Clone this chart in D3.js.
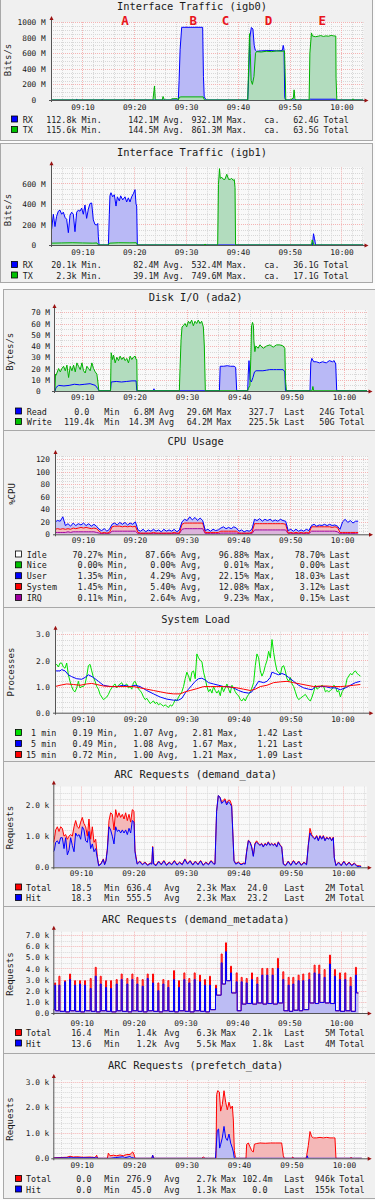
<!DOCTYPE html>
<html>
<head>
<meta charset="utf-8">
<script src="https://cdn.jsdelivr.net/npm/d3@7"></script>
<style>
  html, body { margin: 0; padding: 0; background: #fbfbfb; }
  svg { display: block; }
  text { font-family: "DejaVu Sans Mono", monospace; white-space: pre; fill: #1a1a1a; }
</style>
</head>
<body>
<svg id="chart" width="375" height="1200"></svg>
<script>
// ---------- shared time axis (minutes after 09:00) ----------
const timeTicks = [10, 20, 30, 40, 50, 60];
const timeLabels = ["09:10", "09:20", "09:30", "09:40", "09:50", "10:00"];

// ---------- Interface Traffic (igb0), values in M bits/s, [minute, value] ----------
const igb0Rx = [[3.92,0.3],[8.7,0.3],[8.9,8],[9.1,0.3],[13.6,0.3],[13.8,6],[14,0.3],[19,0.3],[19.2,5],[19.4,0.3],
  [28.5,0.5],[28.65,250],[28.85,650],[29.15,932],[33.2,932],[33.35,300],[33.5,40],[33.9,0.5],
  [41.9,0.5],[42.1,350],[42.3,800],[42.6,930],[42.9,910],[43.15,700],[43.35,640],[43.6,625],[44.5,630],[46,635],
  [47.5,630],[48.6,635],[48.75,700],[48.9,650],[49.05,30],[49.2,0.5],[53.8,0.5],[53.95,10],[58.9,10],[59,0.5],[64.2,0.5]];
const igb0Tx = [[3.92,0.3],[23.6,0.3],[23.8,120],[23.9,180],[24.05,20],[24.2,0.3],[25.4,0.3],[25.55,45],[25.75,10],[25.9,0.3],
  [27,0.3],[27.2,15],[28.3,18],[28.5,0.5],[28.7,35],[29,40],[33.3,40],[33.5,5],[33.7,0.3],
  [41.9,0.3],[42.1,500],[42.25,850],[42.4,600],[42.55,250],[42.8,200],[43.1,300],[43.4,600],[43.6,620],[44.5,615],
  [45.5,625],[46.5,620],[47.5,630],[48.5,625],[49,630],[49.1,400],[49.25,0.3],[50.3,0.3],[50.45,20],[50.7,20],[50.85,130],
  [51,20],[51.2,0.3],[53.75,0.3],[53.9,600],[54.2,860],[54.4,820],[55,812],[55.5,818],[56,826],[56.5,815],[57,822],[57.5,818],
  [58,828],[58.5,822],[58.9,820],[58.95,280],[59.1,0.3],[62.1,0.3],[62.25,15],[62.45,0.3],[64.2,0.3]];

// ---------- Interface Traffic (igb1) ----------
const igb1Rx = [[3.92,150],[4.05,160],[4.37,300],[4.69,180],[5,280],[5.34,330],[5.66,340],[5.98,300],[6.3,320],[6.62,270],
  [6.94,250],[7.27,120],[7.59,290],[7.91,320],[8.23,300],[8.55,130],[8.88,320],[9.2,340],[9.52,330],[9.84,360],[10.16,300],
  [10.48,390],[10.8,260],[11.13,350],[11.45,405],[11.77,410],[12.09,245],[12.41,200],[12.74,195],[12.95,210],[13.06,80],
  [13.2,0.5],[15,0.5],[15.18,300],[15.3,480],[15.5,510],[15.83,470],[16.15,490],[16.47,380],[16.73,470],[17.11,430],
  [17.37,480],[17.76,440],[18.21,470],[18.53,420],[18.85,460],[19.17,420],[19.49,470],[19.82,500],[20.14,540],[20.33,400],
  [20.46,380],[20.59,0.5],[54.4,0.5],[54.6,110],[54.8,60],[55,0.5],[64.2,0.5]];
const igb1Tx = [[3.92,15],[4,18],[6,20],[8,22],[10,20],[12,18],[12.8,20],[13,3],[13.2,0.5],[15,0.5],[15.2,18],[17,22],[19,21],
  [20.4,22],[20.6,0.5],[33.5,0.5],[33.65,10],[33.85,0.5],[36.1,0.5],[36.25,590],[36.45,745],[36.6,650],[36.9,660],[37.2,640],
  [37.5,640],[37.85,690],[38.2,640],[38.5,640],[38.8,650],[39.1,630],[39.3,640],[39.45,560],[39.55,0.5],[54.2,0.5],
  [54.35,50],[54.5,30],[54.65,0.5],[64.2,0.5]];

// ---------- Disk I/O (ada2), M bytes/s ----------
const diskRead = [[4.66,0.2],[4.85,0.2],[4.98,3],[5.49,5],[6.5,4.5],[7.5,5],[8.5,6],[9.5,5.5],[10.5,6],[11.5,6.5],[12.5,5],
  [12.99,2],[13.18,0.2],[15.4,0.2],[15.53,8],[16.5,8.5],[17.5,8],[18.5,8.5],[19.5,9],[20.29,9],[20.42,0.2],[23.55,0.2],
  [23.7,2],[23.85,0.2],[36.2,0.2],[36.35,22],[37,22],[37.7,22.5],[38.3,22],[39,22],[39.3,21],[39.5,0.2],[41.6,0.2],
  [41.7,15],[41.85,27],[42.05,10],[42.3,8],[42.6,12],[42.9,17],[43.2,18],[44.5,18],[45.2,18.5],[45.8,19],[46.5,19],
  [47.1,19],[48.37,19],[48.69,17],[48.82,0.2],[53.5,0.2],[53.65,25],[53.85,29],[54.2,26],[54.7,26],[55.3,25],[55.9,26],
  [56.6,25],[57.2,27],[57.8,26],[58.1,27],[58.41,24],[58.6,0.2],[61,0.2],[61.1,0.5],[61.2,0.2],[64.4,0.2]];
const diskWrite = [[4.66,0.2],[4.8,0.2],[4.9,15],[5,14],[5.49,20],[5.81,17],[6.12,20],[6.44,22],[6.76,18],[7.08,23],[7.4,12],
  [7.71,22],[8.03,18],[8.35,23],[8.67,17],[8.98,25],[9.3,22],[9.62,19],[9.94,25],[10.25,18],[10.57,16],[10.89,22],[11.21,20],
  [11.52,18],[11.84,25],[12.16,20],[12.48,17],[12.8,15],[12.99,8],[13.18,0.2],[15.4,0.2],[15.53,34],[15.78,28],[15.97,32],
  [16.29,25],[16.61,30],[16.93,27],[17.24,31],[17.56,28],[17.88,30],[18.2,27],[18.51,29],[18.83,25],[19.15,31],[19.47,28],
  [19.78,30],[20.1,31],[20.29,28],[20.42,28],[20.5,0.2],[28.55,0.2],[28.68,20],[28.87,45],[29.06,57],[29.31,58],[29.63,60],
  [29.95,57],[30.27,62],[30.58,60],[30.9,63],[31.22,58],[31.54,62],[31.86,60],[32.17,63],[32.49,60],[32.81,62],[33.13,57],
  [33.32,40],[33.51,0.2],[41.6,0.2],[41.7,2],[42.02,5],[42.2,30],[42.34,58],[42.53,61],[42.7,58],[42.78,45],[42.97,35],
  [43.16,40],[43.61,38],[43.93,41],[44.56,38],[45.2,40],[45.84,41],[46.47,39],[47.1,41],[47.74,41],[48.37,40],[48.69,38],
  [48.82,10],[49,0.2],[53.9,0.2],[54.05,4],[54.2,0.2],[64.4,0.2]];

// ---------- CPU Usage, % sampled every 0.5 min from 09:04.6 ----------
const cpuStart = 4.6, cpuStep = 0.5;
const cpuUser = [12,13,13,19,6,8,5,8,5,7, 4,8,3,7,4,6,4,3,4,6, 3,5,4,5,2,6,4,6,3,5, 4,7,4,3,6,2,5,3,5,3,
  5,2,6,3,5,3,5,2,5,4, 6,4,10,5,9,4,8,4,3,5, 2,5,3,4,5,7,4,6,4,7, 5,3,5,2,4,3,5,7,5,8, 4,7,5,7,4,6,4,7,5,5,
  4,5,3,5,3,4,3,5,4,2, 4,1,3,2,4,2,4,3,3,2, 5,17,21,16,19,15,18,18];
const cpuSystem = [5,6,5,6,5,5,5,6,5,6, 7,6,7,6,5,6,6,3,1,2, 1,2,7,8,8,8,7,8,7,8, 7,8,2,1,1,1,1,1,2,1,
  1,1,1,1,1,1,2,1,1,8, 9,9,9,9,9,9,9,9,2,2, 2,2,2,2,3,3,3,3,3,3, 3,1,1,1,1,1,2,10,10,10, 10,10,10,10,10,10,10,10,10,9,
  1,2,1,2,1,2,1,2,1,7, 7,7,7,7,7,7,7,6,7,7, 2,2,2,2,2,2,2,2.5];
const cpuIrq = [3,3,3,3,3,4,3,4,4,4, 4,4,4,4,4,4,3,2,1,1, 1,1,5,5,5,5,5,5,5,5, 5,5,1,1,1,1,1,1,1,1,
  1,1,1,1,1,1,1,1,1,8, 9,9,9,9,9,9,9,9,1,1, 1,1,1,1,2,2,2,2,2,2, 2,1,1,1,1,1,1,7,7,7, 7,7,7,7,7,7,7,7,7,7,
  1,1,1,1,1,1,1,1,1,5, 5,5,5,5,5,5,5,5,5,4, 1,1,1,1,1,1,1,0.5];

// ---------- System Load ----------
const load1Start = 4.595, load1Step = 0.3218;
const load1 = [1.8,1.85,1.75,1.9,1.9,1.75,1.7,1.9,1.45,1.2,1.0,0.85,0.8,0.95,1.2,0.95,1.0,1.0,1.1,1.4,
  1.8,1.85,1.6,1.35,1.2,1.0,0.9,0.7,0.6,0.5,0.55,0.6,0.7,0.85,0.95,1.05,1.1,0.95,1.05,1.1,
  1.15,1.0,1.05,1.1,0.95,1.0,0.9,1.15,1.2,1.05,0.9,0.85,0.75,0.6,0.5,0.55,0.45,0.35,0.4,0.45,
  0.35,0.4,0.3,0.35,0.3,0.25,0.3,0.25,0.2,0.3,0.25,0.35,0.5,0.45,0.6,0.7,0.8,1.0,1.3,1.55,
  1.4,1.2,1.55,1.6,1.3,2.25,2.1,2.0,1.95,1.55,1.3,1.0,0.8,0.9,0.75,1.0,0.85,0.75,0.85,0.65,
  1.0,0.8,0.95,1.1,0.9,0.75,1.05,0.95,0.8,0.7,0.65,0.5,0.45,0.55,0.45,0.6,0.7,0.8,0.95,1.15,
  1.8,2.25,2.1,1.6,1.4,1.55,1.8,2.0,2.35,2.1,2.8,2.3,1.9,1.6,1.55,1.45,1.75,1.8,1.6,1.3,
  1.2,1.35,1.1,1.0,0.8,0.6,0.5,0.55,0.6,0.65,0.7,0.6,0.5,0.45,0.6,0.8,1.05,0.9,0.95,1.0,
  1.05,1.0,0.8,0.85,0.8,0.85,0.9,1.05,1.0,0.8,0.85,0.6,0.8,0.9,1.0,1.3,1.4,1.5,1.45,1.55,
  1.6,1.5,1.45,1.4];
const load5 = [[4.59,1.6],[5.56,1.6],[5.88,1.65],[6.53,1.6],[7.17,1.45],[7.81,1.38],[8.78,1.3],[9.74,1.28],[10.39,1.35],
  [11.03,1.45],[12,1.35],[12.96,1.2],[13.93,1.05],[15.21,1.0],[16.5,1.0],[17.79,1.05],[19.07,1.0],[20.04,1.05],[21,1.0],
  [22.29,0.85],[23.58,0.72],[24.86,0.6],[26.15,0.52],[27.44,0.48],[28.4,0.48],[29.05,0.55],[29.69,0.75],[30.33,0.9],
  [30.98,1.05],[31.62,1.2],[32.27,1.3],[32.91,1.32],[33.55,1.25],[34.2,1.15],[35.16,1.1],[36.13,1.05],[37.09,1.0],
  [38.06,1.0],[39.02,0.95],[39.99,0.85],[40.95,0.78],[41.92,0.75],[42.56,0.8],[43.2,1.0],[43.85,1.2],[44.81,1.15],
  [45.46,1.2],[46.1,1.35],[46.42,1.55],[47.07,1.5],[47.71,1.45],[48.35,1.5],[49,1.45],[49.64,1.35],[50.61,1.2],
  [51.57,1.05],[52.54,0.95],[53.5,0.9],[54.14,0.88],[54.79,1.0],[55.75,1.0],[56.72,1.0],[57.68,0.95],[58.65,0.95],
  [59.61,0.88],[60.58,0.95],[61.54,1.05],[62.51,1.15],[63.47,1.2]];
const load15 = [[4.59,1.0],[5.56,1.05],[6.85,1.1],[8.13,1.08],[9.42,1.05],[10.71,1.1],[11.67,1.12],[12.64,1.08],[13.93,1.02],
  [15.86,1.0],[17.79,1.0],[19.72,1.0],[21,0.95],[22.29,0.9],[23.58,0.85],[24.86,0.8],[26.15,0.75],[27.44,0.72],[28.73,0.72],
  [29.69,0.8],[30.66,0.85],[31.94,0.92],[33.23,1.0],[34.52,1.0],[35.8,1.0],[37.09,1.0],[38.38,0.98],[39.67,0.95],[40.95,0.9],
  [42.24,0.85],[43.2,0.9],[44.17,1.0],[45.46,1.05],[46.74,1.15],[48.03,1.18],[49.32,1.2],[50.61,1.15],[51.89,1.1],
  [53.18,1.05],[54.47,1.0],[55.75,1.02],[57.04,1.02],[58.33,1.0],[59.61,1.0],[60.9,1.02],[62.19,1.05],[63.47,1.08]];

// ---------- ARC Requests (demand_data), k requests ----------
const demandHit = [[4.75,0.5],[4.92,0.55],[5.17,0.8],[5.49,0.85],[5.81,0.75],[6.12,0.95],[6.44,0.95],[6.76,0.6],[7.08,0.95],
  [7.4,0.4],[7.71,0.55],[8.03,0.95],[8.35,0.7],[8.67,0.5],[8.98,1.1],[9.3,1.0],[9.62,1.05],[9.94,0.9],[10.25,1.3],[10.57,1.2],
  [10.89,0.85],[11.21,0.8],[11.52,1.15],[11.84,0.6],[12.16,0.75],[12.48,0.5],[12.8,0.6],[13.11,0.3],[13.37,0.05],[13.8,0.1],
  [14.26,0.25],[14.5,0.08],[14.76,0.2],[15.02,0.55],[15.34,1.3],[15.65,1.2],[15.97,1.0],[16.29,0.75],[16.61,1.3],[16.93,1.15],
  [17.24,1.2],[17.56,1.1],[17.88,1.2],[18.2,1.1],[18.51,1.2],[18.83,1.05],[19.15,1.25],[19.47,1.1],[19.78,1.5],[20.1,1.45],
  [20.29,0.5],[20.48,0.3],[20.7,0.1],[21.2,0.18],[21.7,0.08],[22.2,0.15],[22.7,0.06],[23.2,0.12],[23.5,0.1],[23.66,0.65],
  [23.85,0.1],[24.3,0.05],[24.8,0.18],[25.3,0.08],[25.8,0.2],[26.3,0.06],[26.8,0.15],[27.3,0.08],[27.8,0.2],[28.3,0.07],
  [28.8,0.15],[29.3,0.08],[29.8,0.25],[30.3,0.1],[30.8,0.2],[31.3,0.07],[31.8,0.18],[32.3,0.08],[32.8,0.2],[33.3,0.06],
  [33.8,0.15],[34.3,0.08],[34.8,0.2],[35.3,0.1],[35.54,0.1],[35.85,1.8],[36.17,2.3],[36.49,2.25],[36.8,2.05],[37.12,2.1],
  [37.45,2.15],[37.76,2.0],[38.08,2.1],[38.4,2.05],[38.72,1.95],[38.91,1.2],[39.17,0.2],[39.5,0.1],[40,0.15],[40.5,0.08],
  [41,0.12],[41.3,0.1],[41.58,0.5],[41.9,0.85],[42.22,0.8],[42.53,0.65],[42.85,0.35],[43.16,0.75],[43.48,0.8],[43.8,0.75],
  [44.11,0.7],[44.43,0.75],[44.75,0.65],[45.07,0.75],[45.39,0.7],[45.7,0.8],[46.02,0.7],[46.34,0.75],[46.66,0.7],[46.98,0.75],
  [47.3,0.65],[47.61,0.8],[47.93,0.7],[48.25,0.65],[48.57,0.1],[49,0.05],[49.5,0.18],[50,0.06],[50.5,0.2],[51,0.08],
  [51.5,0.18],[52,0.06],[52.5,0.15],[53,0.08],[53.33,0.7],[53.65,1.1],[53.97,1.0],[54.29,0.95],[54.6,0.9],[54.92,1.0],
  [55.24,0.85],[55.56,1.0],[55.88,0.9],[56.2,1.0],[56.51,0.85],[56.83,0.95],[57.15,0.9],[57.47,0.95],[57.78,0.85],[58.09,0.95],
  [58.28,0.3],[58.6,0.05],[59.1,0.15],[59.6,0.05],[60.1,0.18],[60.6,0.06],[61.1,0.15],[61.6,0.05],[62.1,0.12],[62.6,0.03],
  [63.1,0.03],[63.4,0.02]];
const demandTotal = [[4.75,0.8],[4.92,0.9],[5.17,1.2],[5.49,1.3],[5.81,1.15],[6.12,1.3],[6.44,1.25],[6.76,1.0],[7.08,1.05],
  [7.4,0.9],[7.71,1.0],[8.03,1.05],[8.35,1.0],[8.67,1.3],[8.98,1.5],[9.3,1.3],[9.62,1.25],[9.94,1.45],[10.25,1.6],[10.57,1.4],
  [10.89,1.3],[11.21,1.0],[11.52,1.55],[11.84,0.9],[12.16,1.3],[12.48,0.8],[12.8,0.9],[13.11,0.35],[13.37,0.06],[13.8,0.12],
  [14.26,0.27],[14.5,0.1],[14.76,0.22],[15.02,0.6],[15.34,1.5],[15.65,1.75],[15.97,1.7],[16.29,1.2],[16.61,1.85],[16.93,1.6],
  [17.24,1.75],[17.56,1.6],[17.88,1.7],[18.2,1.55],[18.51,1.75],[18.83,1.5],[19.15,1.7],[19.47,1.45],[19.78,1.85],[20.1,1.8],
  [20.29,0.55],[20.48,0.35],[20.7,0.12],[21.2,0.2],[21.7,0.1],[22.2,0.17],[22.7,0.08],[23.2,0.14],[23.5,0.12],[23.66,0.67],
  [23.85,0.12],[24.3,0.07],[24.8,0.2],[25.3,0.1],[25.8,0.22],[26.3,0.08],[26.8,0.17],[27.3,0.1],[27.8,0.22],[28.3,0.09],
  [28.8,0.17],[29.3,0.1],[29.8,0.27],[30.3,0.12],[30.8,0.22],[31.3,0.09],[31.8,0.2],[32.3,0.1],[32.8,0.22],[33.3,0.08],
  [33.8,0.17],[34.3,0.1],[34.8,0.22],[35.3,0.12],[35.54,0.12],[35.85,1.8],[36.17,2.3],[36.49,2.25],[36.8,2.1],[37.12,2.15],
  [37.45,2.2],[37.76,2.05],[38.08,2.15],[38.4,2.15],[38.72,2.0],[38.91,1.25],[39.17,0.22],[39.5,0.12],[40,0.17],[40.5,0.1],
  [41,0.14],[41.3,0.12],[41.58,0.52],[41.9,0.87],[42.22,0.82],[42.53,0.67],[42.85,0.37],[43.16,0.77],[43.48,0.85],[43.8,0.77],
  [44.11,0.72],[44.43,0.77],[44.75,0.67],[45.07,0.77],[45.39,0.72],[45.7,0.82],[46.02,0.72],[46.34,0.77],[46.66,0.72],
  [46.98,0.77],[47.3,0.67],[47.61,0.82],[47.93,0.72],[48.25,0.67],[48.57,0.12],[49,0.07],[49.5,0.2],[50,0.08],[50.5,0.22],
  [51,0.1],[51.5,0.2],[52,0.08],[52.5,0.17],[53,0.1],[53.33,0.72],[53.65,1.25],[53.97,1.05],[54.29,0.97],[54.6,0.92],
  [54.92,1.02],[55.24,0.87],[55.56,1.02],[55.88,0.92],[56.2,1.02],[56.51,0.87],[56.83,0.97],[57.15,0.92],[57.47,0.97],
  [57.78,0.87],[58.09,0.97],[58.28,0.32],[58.6,0.07],[59.1,0.17],[59.6,0.07],[60.1,0.2],[60.6,0.08],[61.1,0.17],[61.6,0.07],
  [62.1,0.14],[62.6,0.05],[63.1,0.05],[63.4,0.04]];

// ---------- ARC Requests (demand_metadata), k requests, one burst per minute ----------
const metaTimes = [4.87,5.70,6.79,7.75,8.72,9.68,10.64,11.73,12.70,13.66,14.69,15.65,16.74,17.70,18.79,19.76,20.72,21.75,
  22.71,23.74,24.76,25.73,26.69,27.78,28.74,29.77,30.73,31.76,32.79,33.75,34.71,35.87,36.96,37.79,38.76,39.85,40.81,41.78,
  42.80,43.83,44.79,45.75,46.78,47.80,48.83,49.86,50.76,51.78,52.68,53.84,54.86,55.76,56.79,57.82,58.78,59.74,60.77,61.80,62.82];
const metaTotalPeak = [2.7,3.3,2.9,3.5,2.9,2.9,2.9,3.1,4.1,3.3, 2.9,2.9,3.0,3.5,3.1,3.5,3.2,3.0,3.5,3.5,
  2.7,3.0,2.9,3.8,2.9,3.6,3.1,3.6,3.4,3.0, 3.3,2.5,5.3,6.3,4.2,3.6,3.2,3.1,3.6,3.2, 4.0,4.0,4.0,4.9,3.7,3.2,3.2,3.4,3.5,3.6,
  4.3,4.3,3.9,5.2,3.9,3.6,3.6,3.2,4.1];
const metaHitPeak = [2.5,2.5,2.8,3.0,2.5,2.6,2.5,2.2,3.3,2.6, 2.3,2.2,2.6,3.0,2.6,3.0,2.6,2.4,3.1,2.7,
  2.0,2.6,2.3,3.0,2.3,3.0,2.7,3.0,2.8,2.5, 2.5,2.2,4.5,5.5,3.6,2.8,2.8,2.7,3.0,2.6, 3.4,3.4,3.4,4.0,3.0,2.5,2.6,2.9,2.9,3.0,
  3.6,3.5,3.2,4.4,3.3,3.0,3.0,2.4,3.4];
const metaFloor = [0.2,0.15,0.1,0.2,0.15,0.1,0.2,0.15,0.1,0.2, 0.15,0.1,0.2,0.15,0.1,0.2,0.15,0.1,0.2,0.15,
  0.1,0.2,0.15,0.1,0.2,0.15,0.1,0.2,0.15,0.1, 0.3,1.6,2.6,2.9,1.8,0.2,0.8,0.85,0.8,0.9, 0.8,0.85,0.8,0.9,0.2,0.15,0.25,0.2,0.3,0.9,
  0.85,0.95,0.9,0.85,0.2,0.15,0.2,0.15,1.8];

// ---------- ARC Requests (prefetch_data), k requests ----------
const prefetchTotal = [[4.6,0.02],[7.14,0.04],[7.78,0.08],[8.41,0.05],[9.05,0.06],[10.32,0.04],[11.59,0.05],[12.54,0.03],
  [12.86,0.12],[13.05,0],[14.9,0],[15.08,0.2],[15.4,0.1],[16.04,0.12],[16.67,0.1],[17.31,0.13],[17.94,0.1],[18.58,0.15],
  [19.21,0.15],[19.72,0.25],[19.97,0.15],[20.17,0],[23.34,0],[23.53,0.12],[23.79,0],[32.87,0],[33.19,0.05],[33.51,0],
  [35.6,0],[35.73,2.5],[35.92,2.65],[36.24,2.6],[36.49,1.85],[36.8,2.1],[37.13,2.65],[37.45,2.2],[37.76,1.9],[38.08,2.2],
  [38.4,1.95],[38.72,2.05],[38.91,1.5],[39.1,0.3],[39.29,0.05],[39.55,0],[41.32,0],[41.45,0.55],[41.77,0.6],[42.08,0.45],
  [42.4,0.3],[42.72,0.25],[42.91,0.55],[43.35,0.58],[43.99,0.6],[45,0.59],[46,0.6],[47,0.6],[48.12,0.6],[48.44,0.1],
  [48.63,0],[50.03,0],[50.22,0.05],[50.47,0],[52.76,0],[52.88,0.1],[53.2,0.5],[53.52,1.05],[53.84,0.85],[54.16,0.8],
  [54.79,0.8],[55.43,0.82],[56.06,0.8],[56.7,0.82],[57.33,0.8],[57.97,0.8],[58.28,0.8],[58.47,0],[61.14,0],[61.33,0.03],
  [61.65,0],[63.4,0]];
const prefetchHit = [[4.6,0.01],[7.5,0.02],[7.78,0.05],[8.1,0.02],[12.7,0.02],[12.86,0.05],[13.05,0],[15.4,0],[16.5,0.03],
  [17.9,0.06],[18.2,0.02],[19.2,0.07],[19.5,0.03],[20.17,0],[23.4,0],[23.53,0.12],[23.7,0],[35.5,0],[35.6,0.3],[35.85,1.1],
  [36.1,1.15],[36.3,0.4],[36.5,0.55],[36.8,0.8],[37.13,1.25],[37.45,0.8],[37.76,0.7],[38.08,0.95],[38.4,0.6],[38.72,0.4],
  [38.91,0.25],[39.1,0],[52.9,0],[53,0.1],[53.15,0],[63.4,0]];

// ---------- legend texts ----------
const igb0Legend = [["RX","112.8k","Min.","142.1M","Avg.","932.1M","Max.","ca.","62.4G","Total"],
                    ["TX","115.6k","Min.","144.5M","Avg.","861.3M","Max.","ca.","63.5G","Total"]];
const igb1Legend = [["RX","20.1k","Min.","82.4M","Avg.","532.4M","Max.","ca.","36.1G","Total"],
                    ["TX","2.3k","Min.","39.1M","Avg.","749.6M","Max.","ca.","17.1G","Total"]];
const diskLegend = [["Read","0.0","Min","6.8M","Avg","29.6M","Max","327.7","Last","24G","Total"],
                    ["Write","119.4k","Min","14.3M","Avg","64.2M","Max","225.5k","Last","50G","Total"]];
const cpuLegend = [["Idle","70.27%","Min,","87.66%","Avg,","96.88%","Max,","78.70%","Last"],
                   ["Nice","0.00%","Min,","0.00%","Avg,","0.01%","Max,","0.00%","Last"],
                   ["User","1.35%","Min,","4.29%","Avg,","22.15%","Max,","18.03%","Last"],
                   ["System","1.45%","Min,","5.40%","Avg,","12.08%","Max,","3.12%","Last"],
                   ["IRQ","0.11%","Min,","2.64%","Avg,","9.23%","Max,","0.15%","Last"]];
const loadLegend = [[" 1 min","0.19","Min,","1.07","Avg,","2.81","Max,","1.42","Last"],
                    [" 5 min","0.49","Min,","1.08","Avg,","1.67","Max,","1.21","Last"],
                    ["15 min","0.72","Min,","1.00","Avg,","1.21","Max,","1.09","Last"]];
const demandLegend = [["Total","18.5","Min","636.4","Avg","2.3k","Max","24.0","Last","2M","Total"],
                      ["Hit","18.3","Min","555.5","Avg","2.3k","Max","23.2","Last","2M","Total"]];
const metaLegend = [["Total","16.4","Min","1.4k","Avg","6.3k","Max","2.1k","Last","5M","Total"],
                    ["Hit","13.6","Min","1.2k","Avg","5.5k","Max","1.8k","Last","4M","Total"]];
const prefetchLegend = [["Total","0.0","Min","276.9","Avg","2.7k","Max","102.4m","Last","946k","Total"],
                        ["Hit","0.0","Min","45.0","Avg","1.3k","Max","0.0","Last","155k","Total"]];

// ---------- y axis ticks ----------
const trafficTicks = [0, 200, 400, 600, 800, 1000];
const trafficTickLabels = ["0  ", "200 M", "400 M", "600 M", "800 M", "1000 M"];
const diskTicks = [0, 10, 20, 30, 40, 50, 60, 70];
const diskTickLabels = ["0  ", "10 M", "20 M", "30 M", "40 M", "50 M", "60 M", "70 M"];
const cpuTicks = [0, 20, 40, 60, 80, 100, 120];
const loadTicks = [0, 1, 2, 3];
const loadTickLabels = ["0.0", "1.0", "2.0", "3.0"];
const kTicks = [0, 1, 2, 3, 4, 5, 6, 7];
const kTickLabels = ["0.0", "1.0 k", "2.0 k", "3.0 k", "4.0 k", "5.0 k", "6.0 k", "7.0 k"];

// annotation letters above the igb0 graph, placed on its time axis
const markLetters = ["A", "B", "C", "D", "E"];
const markTimes = [18.2, 31.4, 37.6, 45.9, 56.3];

// ---------- colours ----------
const BLUE = "#0000ff", GREEN = "#00b000", RED = "#ff0000", PURPLE = "#a000a0";
const BLUE_FILL = "#b9b9f6", GREEN_FILL = "#b2dcbe";
const PINK = "#f4b8b8", LAVENDER = "#bcbcf4";

// legend column positions [x, anchor]
const trafficCols = [[22.7,"s"],[76.5,"e"],[81.5,"s"],[158.5,"e"],[163.5,"s"],[221.7,"e"],[226.7,"s"],[264.3,"s"],[318.5,"e"],[323.5,"s"]];
const diskCols = [[26.7,"s"],[94.3,"e"],[104.3,"s"],[154,"e"],[159,"s"],[212,"e"],[216.5,"s"],[279,"e"],[284.3,"s"],[334.5,"e"],[339.5,"s"]];
const cpuCols = [[26.7,"s"],[102.7,"e"],[107.7,"s"],[175.5,"e"],[181,"s"],[249,"e"],[254.5,"s"],[325,"e"],[329.5,"s"]];
const loadCols = [[26,"s"],[92.7,"e"],[97.7,"s"],[153.3,"e"],[158.3,"s"],[212.7,"e"],[217.7,"s"],[277.5,"e"],[282.5,"s"]];
const arcCols = [[26,"s"],[96.5,"e"],[104.3,"s"],[156.7,"e"],[164.3,"s"],[216.7,"e"],[221,"s"],[272.5,"e"],[284.3,"s"],[335,"e"],[339.3,"s"]];

const svg = d3.select("#chart");

// panel frames
svg.append("rect").attr("x", 0.5).attr("y", -0.5).attr("width", 372).attr("height", 141).attr("fill", "#f0f0f0").attr("stroke", "#a8a8a8");
svg.append("rect").attr("x", 0.5).attr("y", 143.5).attr("width", 372).attr("height", 139).attr("fill", "#f0f0f0").attr("stroke", "#a8a8a8");
svg.append("rect").attr("x", 3.5).attr("y", 289.5).attr("width", 381).attr("height", 909).attr("fill", "#f0f0f0").attr("stroke", "#a8a8a8");
[430.5, 607.5, 761.5, 906.5, 1053.5].forEach(yy => {
  svg.append("line").attr("x1", 3.5).attr("x2", 375).attr("y1", yy).attr("y2", yy).attr("stroke", "#a8a8a8");
});

// fills first, then the lines on top
function drawSeries(g, x, y, list) {
  list.forEach(s => {
    if (s.fill) g.append("path").datum(s.pts).attr("fill", s.fill)
      .attr("d", d3.area().x(d => x(d[0])).y0(y(0)).y1(d => y(d[1])));
  });
  list.forEach(s => {
    g.append("path").datum(s.pts).attr("fill", "none").attr("stroke", s.line).attr("stroke-width", 1)
      .attr("d", d3.line().x(d => x(d[0])).y(d => y(d[1])));
  });
}

// narrow bursts: straight up from the previous floor to the peak, then down to the next floor
function burstSeries(times, peaks, floors, start, end) {
  const pts = [start];
  times.forEach((t, i) => {
    const prev = i ? floors[i - 1] : start[1];
    pts.push([t - 0.1, prev], [t - 0.09, peaks[i]], [t + 0.1, peaks[i]], [t + 0.11, floors[i]]);
  });
  pts.push([end, floors[floors.length - 1]]);
  return pts;
}

const panels = [
  { title: "Interface Traffic (igb0)", titleX: 192, titleY: 9.5, yTitle: "Bits/s", yTitleX: 10.5, yTitleY: 60,
    x0: 51, x1: 363.5, t0: 3.92, t1: 64.25, yB: 100, yT: 22, yMax: 1000,
    yTicks: trafficTicks, yTickLabels: trafficTickLabels, yMinor: 50, yLabelEnd: 45.7, xLabelY: 110,
    legend: igb0Legend, cols: trafficCols, legendY: [122.5, 133], boxX: 11, colors: [BLUE, "#00c000"], pad: false,
    draw: (g, x, y) => drawSeries(g, x, y, [{ pts: igb0Rx, line: BLUE, fill: BLUE_FILL }, { pts: igb0Tx, line: GREEN, fill: GREEN_FILL }]) },
  { title: "Interface Traffic (igb1)", titleX: 192, titleY: 155.5, yTitle: "Bits/s", yTitleX: 10.5, yTitleY: 210,
    x0: 51, x1: 363.5, t0: 3.92, t1: 64.25, yB: 245, yT: 167.3, yMax: 758,
    yTicks: trafficTicks.slice(0, 4), yTickLabels: trafficTickLabels.slice(0, 4), yMinor: 50, yLabelEnd: 45.7, xLabelY: 254.8,
    legend: igb1Legend, cols: trafficCols, legendY: [268, 278.5], boxX: 11, colors: [BLUE, "#00c000"], pad: false,
    draw: (g, x, y) => drawSeries(g, x, y, [{ pts: igb1Rx, line: BLUE, fill: BLUE_FILL }, { pts: igb1Tx, line: GREEN, fill: GREEN_FILL }]) },
  { title: "Disk I/O (ada2)", titleX: 195.7, titleY: 300.5, yTitle: "Bytes/s", yTitleX: 12.5, yTitleY: 351.7,
    x0: 54, x1: 367.5, t0: 4.61, t1: 64.48, yB: 391, yT: 310, yMax: 72,
    yTicks: diskTicks, yTickLabels: diskTickLabels, yMinor: 5, yLabelEnd: 50, xLabelY: 400,
    legend: diskLegend, cols: diskCols, legendY: [414.5, 425], boxX: 15, colors: [BLUE, "#00c000"], pad: true,
    draw: (g, x, y) => drawSeries(g, x, y, [{ pts: diskRead, line: BLUE, fill: BLUE_FILL }, { pts: diskWrite, line: GREEN, fill: GREEN_FILL }]) },
  { title: "CPU Usage", titleX: 195.7, titleY: 444.5, yTitle: "%CPU", yTitleX: 15, yTitleY: 494,
    x0: 55, x1: 368, t0: 4.59, t1: 65.0, yB: 534.3, yT: 456, yMax: 125.3,
    yTicks: cpuTicks, yTickLabels: cpuTicks.map(String), yMinor: 5, yLabelEnd: 50, xLabelY: 542.8,
    legend: cpuLegend, cols: cpuCols, legendY: [557.5, 568.3, 579.2, 590, 600.9], boxX: 15,
    colors: ["#ffffff", "#00c000", BLUE, RED, PURPLE], pad: false,
    draw: (g, x, y) => {
      const rows = cpuUser.map((u, i) => ({ t: cpuStart + i * cpuStep, irq: cpuIrq[i], system: cpuSystem[i], user: u }));
      const layers = d3.stack().keys(["irq", "system", "user"])(rows);
      const fills = ["#dcb4dc", "#f4c0c0", "#c4c4f4"], lines = [PURPLE, RED, BLUE];
      layers.forEach((L, k) => {
        g.append("path").datum(L).attr("fill", fills[k])
          .attr("d", d3.area().x(d => x(d.data.t)).y0(d => y(d[0])).y1(d => y(d[1])));
      });
      layers.forEach((L, k) => {
        g.append("path").datum(L).attr("fill", "none").attr("stroke", lines[k]).attr("stroke-width", 1)
          .attr("d", d3.line().x(d => x(d.data.t)).y(d => y(d[1])));
      });
    } },
  { title: "System Load", titleX: 195.7, titleY: 622.7, yTitle: "Processes", yTitleX: 14, yTitleY: 672,
    x0: 55, x1: 368.3, t0: 4.59, t1: 65.0, yB: 712.7, yT: 631.7, yMax: 3.1,
    yTicks: loadTicks, yTickLabels: loadTickLabels, yMinor: 0.2, yLabelEnd: 50, xLabelY: 722,
    legend: loadLegend, cols: loadCols, legendY: [736, 747, 758], boxX: 15, colors: ["#00e000", BLUE, RED], pad: false,
    draw: (g, x, y) => drawSeries(g, x, y, [
      { pts: load1.map((v, i) => [load1Start + i * load1Step, v]), line: "#00e000" },
      { pts: load5, line: BLUE }, { pts: load15, line: RED }]) },
  { title: "ARC Requests (demand_data)", titleX: 195.7, titleY: 777.5, yTitle: "Requests", yTitleX: 12.5, yTitleY: 827.5,
    x0: 53.3, x1: 366.7, t0: 4.72, t1: 64.46, yB: 867.3, yT: 786.6, yMax: 2.59,
    yTicks: kTicks.slice(0, 3), yTickLabels: kTickLabels.slice(0, 3), yMinor: 0.2, yLabelEnd: 49.3, xLabelY: 876,
    legend: demandLegend, cols: arcCols, legendY: [890.5, 901], boxX: 15, colors: [RED, BLUE], pad: true,
    draw: (g, x, y) => drawSeries(g, x, y, [{ pts: demandTotal, line: RED, fill: PINK }, { pts: demandHit, line: BLUE, fill: LAVENDER }]) },
  { title: "ARC Requests (demand_metadata)", titleX: 195.7, titleY: 923, yTitle: "Requests", yTitleX: 12.5, yTitleY: 974,
    x0: 53.3, x1: 366.7, t0: 4.53, t1: 64.9, yB: 1013, yT: 931.7, yMax: 7.3,
    yTicks: kTicks, yTickLabels: kTickLabels, yMinor: 0.5, yLabelEnd: 49.3, xLabelY: 1026,
    legend: metaLegend, cols: arcCols, legendY: [1036, 1046.5], boxX: 15, colors: [RED, BLUE], pad: true,
    draw: (g, x, y) => drawSeries(g, x, y, [
      { pts: burstSeries(metaTimes, metaTotalPeak, metaFloor, [4.55, 0.3], 63.3), line: RED, fill: PINK },
      { pts: burstSeries(metaTimes, metaHitPeak, metaFloor, [4.55, 0.3], 63.3), line: BLUE, fill: LAVENDER }]) },
  { title: "ARC Requests (prefetch_data)", titleX: 195.7, titleY: 1068.5, yTitle: "Requests", yTitleX: 12.5, yTitleY: 1119,
    x0: 53.3, x1: 366.7, t0: 4.59, t1: 64.33, yB: 1158.3, yT: 1080, yMax: 3.07,
    yTicks: kTicks.slice(0, 4), yTickLabels: kTickLabels.slice(0, 4), yMinor: 0.2, yLabelEnd: 49.3, xLabelY: 1167.8,
    legend: prefetchLegend, cols: arcCols, legendY: [1182, 1192.5], boxX: 15, colors: [RED, BLUE], pad: true,
    draw: (g, x, y) => drawSeries(g, x, y, [{ pts: prefetchTotal, line: RED, fill: PINK }, { pts: prefetchHit, line: BLUE, fill: LAVENDER }]) }
];

panels.forEach((p, idx) => {
  const x = d3.scaleLinear().domain([p.t0, p.t1]).range([p.x0, p.x1]);
  const y = d3.scaleLinear().domain([0, p.yMax]).range([p.yB, p.yT]);
  const g = svg.append("g");

  // plot background
  g.append("rect").attr("x", p.x0).attr("y", p.yT).attr("width", p.x1 - p.x0).attr("height", p.yB - p.yT).attr("fill", "#f9f9f9");

  // minor grid (every 2 min, every yMinor)
  const vMinor = d3.range(Math.ceil(p.t0 / 2) * 2, p.t1, 2).filter(t => t % 10 !== 0);
  const hMinor = d3.range(1, Math.floor(p.yMax / p.yMinor + 1e-6) + 1).map(k => k * p.yMinor)
    .filter(v => !p.yTicks.some(t => Math.abs(t - v) < 1e-6));
  g.selectAll(null).data(vMinor).join("line")
    .attr("x1", d => Math.round(x(d)) + 0.5).attr("x2", d => Math.round(x(d)) + 0.5)
    .attr("y1", p.yT).attr("y2", p.yB).attr("stroke", "#d8d8d8").attr("stroke-dasharray", "1,1");
  g.selectAll(null).data(hMinor).join("line")
    .attr("y1", d => Math.round(y(d)) + 0.5).attr("y2", d => Math.round(y(d)) + 0.5)
    .attr("x1", p.x0).attr("x2", p.x1).attr("stroke", "#d8d8d8").attr("stroke-dasharray", "1,1");
  // major grid
  g.selectAll(null).data(timeTicks).join("line")
    .attr("x1", d => Math.round(x(d)) + 0.5).attr("x2", d => Math.round(x(d)) + 0.5)
    .attr("y1", p.yT).attr("y2", p.yB).attr("stroke", "#f4b4b4").attr("stroke-dasharray", "1,1");
  g.selectAll(null).data(p.yTicks.filter(v => v > 0)).join("line")
    .attr("y1", d => Math.round(y(d)) + 0.5).attr("y2", d => Math.round(y(d)) + 0.5)
    .attr("x1", p.x0).attr("x2", p.x1).attr("stroke", "#f4b4b4").attr("stroke-dasharray", "1,1");

  // data
  const clipId = "clip" + idx;
  svg.append("clipPath").attr("id", clipId).append("rect")
    .attr("x", p.x0).attr("y", p.yT - 2).attr("width", p.x1 - p.x0).attr("height", p.yB - p.yT + 2);
  const dg = g.append("g").attr("clip-path", `url(#${clipId})`);
  p.draw(dg, x, y);

  // axis lines with arrows
  g.append("line").attr("x1", p.x0 + 0.5).attr("x2", p.x0 + 0.5).attr("y1", p.yB + 2).attr("y2", p.yT - 3)
    .attr("stroke", "#555");
  g.append("line").attr("x1", p.x0 - 2).attr("x2", p.x1 + 2).attr("y1", p.yB + 0.5).attr("y2", p.yB + 0.5)
    .attr("stroke", "#555");
  g.append("path").attr("fill", "#9a1010")
    .attr("d", `M${p.x0 + 0.5},${p.yT - 6}L${p.x0 - 1.5},${p.yT - 2}L${p.x0 + 2.5},${p.yT - 2}Z`);
  g.append("path").attr("fill", "#9a1010")
    .attr("d", `M${p.x1 + 5},${p.yB + 0.5}L${p.x1 + 1},${p.yB - 1.5}L${p.x1 + 1},${p.yB + 2.5}Z`);

  // x tick labels
  const xa = g.append("g").attr("transform", `translate(0,${p.yB})`)
    .call(d3.axisBottom(x).tickValues(timeTicks).tickFormat((d, i) => timeLabels[i]).tickSize(0));
  xa.select(".domain").remove();
  xa.selectAll("text").attr("y", p.xLabelY - p.yB).attr("dy", null)
    .attr("font-family", "DejaVu Sans Mono").attr("font-size", 7.8).attr("fill", "#1a1a1a");

  // y tick labels
  const ya = g.append("g").attr("transform", `translate(${p.x0},0)`)
    .call(d3.axisLeft(y).tickValues(p.yTicks).tickFormat((d, i) => p.yTickLabels[i]).tickSize(0));
  ya.select(".domain").remove();
  ya.selectAll("text").attr("x", p.yLabelEnd - p.x0).attr("dy", "0.33em")
    .attr("font-family", "DejaVu Sans Mono").attr("font-size", 7.8).attr("fill", "#1a1a1a");

  // titles
  svg.append("text").attr("x", p.titleX).attr("y", p.titleY).attr("text-anchor", "middle")
    .attr("font-size", 10.4).text(p.title);
  svg.append("text").attr("transform", `translate(${p.yTitleX},${p.yTitleY}) rotate(-90)`)
    .attr("text-anchor", "middle").attr("font-size", 9).text(p.yTitle);

  // legend
  p.legend.forEach((row, r) => {
    const by = p.legendY[r];
    svg.append("rect").attr("x", p.boxX + 0.5).attr("y", by - 6.5).attr("width", 6).attr("height", 6)
      .attr("fill", p.colors[r]).attr("stroke", "#000").attr("stroke-width", 0.8);
    row.forEach((tok, c) => {
      const [cx, anchor] = p.cols[c];
      const s = (p.pad && anchor === "e" && /\d$/.test(tok)) ? tok + " " : tok;
      svg.append("text").attr("x", cx).attr("y", by).attr("font-size", 8.4)
        .attr("text-anchor", anchor === "e" ? "end" : "start").text(s);
    });
  });
});

// red annotation letters, positioned on the igb0 time scale
const p0 = panels[0];
const markX = d3.scaleLinear().domain([p0.t0, p0.t1]).range([p0.x0, p0.x1]);
svg.selectAll("text.mark").data(markLetters).join("text").attr("class", "mark")
  .attr("x", (d, i) => markX(markTimes[i])).attr("y", 24.5).attr("text-anchor", "middle")
  .attr("font-family", "Liberation Sans, Arial, sans-serif").attr("font-weight", "bold").attr("font-size", 12.5)
  .style("fill", "#e8141c").text(d => d);
</script>
</body>
</html>
